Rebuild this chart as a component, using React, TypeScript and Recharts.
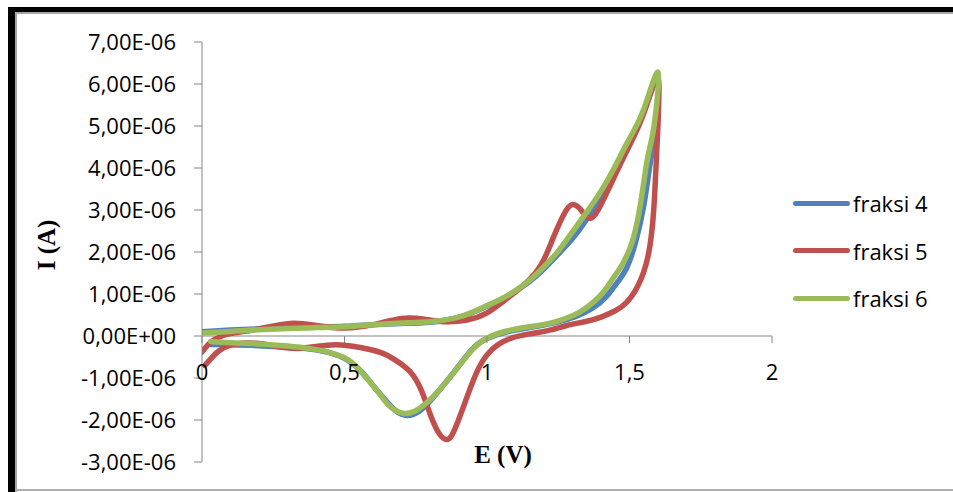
import React from 'react';
import { LineChart, Line, XAxis, YAxis, ReferenceLine } from 'recharts';

// cyclic voltammograms, E in V, I in µA (scaled to A below)
const e4 = [0, 0.1, 0.2, 0.3, 0.4, 0.5, 0.6, 0.7, 0.8, 0.9, 0.98, 1.05, 1.1, 1.15, 1.2, 1.25, 1.3, 1.35, 1.4, 1.45, 1.5, 1.55, 1.6,
  1.595, 1.585, 1.57, 1.55, 1.52, 1.49, 1.46, 1.42, 1.37, 1.31, 1.24, 1.15, 1.07, 1.0, 0.95, 0.9, 0.85, 0.8, 0.76, 0.72, 0.68, 0.64, 0.6, 0.56, 0.52, 0.48, 0.4, 0.3, 0.2, 0.1, 0.03];
const i4 = [0.1, 0.14, 0.17, 0.19, 0.21, 0.23, 0.27, 0.3, 0.33, 0.44, 0.65, 0.87, 1.07, 1.3, 1.6, 1.95, 2.32, 2.78, 3.35, 4.0, 4.65, 5.35, 6.15,
  5.2, 4.6, 4.0, 3.1, 2.2, 1.62, 1.3, 0.95, 0.66, 0.46, 0.32, 0.2, 0.1, -0.06, -0.3, -0.72, -1.15, -1.55, -1.8, -1.89, -1.78, -1.5, -1.18, -0.85, -0.62, -0.47, -0.33, -0.27, -0.23, -0.21, -0.2];

const e5 = [0, 0.03, 0.07, 0.12, 0.2, 0.31, 0.4, 0.5, 0.6, 0.7, 0.78, 0.85, 0.93, 1.0, 1.06, 1.13, 1.19, 1.23, 1.27, 1.3, 1.33, 1.36, 1.39, 1.43, 1.49, 1.55, 1.6,
  1.597, 1.585, 1.565, 1.53, 1.49, 1.45, 1.4, 1.35, 1.28, 1.22, 1.15, 1.09, 1.04, 1.0, 0.965, 0.93, 0.9, 0.875, 0.855, 0.83, 0.8, 0.77, 0.73, 0.68, 0.63, 0.56, 0.5, 0.44, 0.35, 0.28, 0.2, 0.14, 0.1, 0.06, 0.03, 0.01];
const i5 = [-0.38, -0.15, 0.0, 0.08, 0.17, 0.3, 0.25, 0.19, 0.27, 0.42, 0.4, 0.34, 0.38, 0.55, 0.84, 1.22, 1.7, 2.3, 2.9, 3.13, 3.0, 2.8, 3.0, 3.55, 4.4, 5.3, 6.1,
  4.6, 3.0, 1.9, 1.2, 0.8, 0.6, 0.45, 0.35, 0.25, 0.14, 0.05, -0.04, -0.2, -0.45, -0.85, -1.45, -2.0, -2.38, -2.46, -2.3, -1.85, -1.3, -0.85, -0.58, -0.4, -0.28, -0.22, -0.22, -0.29, -0.27, -0.18, -0.17, -0.22, -0.35, -0.55, -0.7];

const e6 = [0, 0.1, 0.2, 0.3, 0.4, 0.5, 0.6, 0.7, 0.8, 0.9, 0.98, 1.05, 1.1, 1.15, 1.2, 1.25, 1.3, 1.35, 1.4, 1.45, 1.5, 1.55, 1.6,
  1.59, 1.575, 1.56, 1.54, 1.51, 1.47, 1.44, 1.4, 1.35, 1.3, 1.23, 1.15, 1.07, 1.0, 0.95, 0.9, 0.85, 0.8, 0.75, 0.705, 0.66, 0.62, 0.58, 0.54, 0.5, 0.44, 0.38, 0.3, 0.2, 0.1, 0.03];
const i6 = [0.07, 0.11, 0.15, 0.18, 0.2, 0.22, 0.27, 0.31, 0.34, 0.45, 0.66, 0.88, 1.08, 1.33, 1.65, 2.02, 2.48, 2.95, 3.45, 4.05, 4.7, 5.4, 6.28,
  5.2, 4.6, 4.1, 3.2, 2.25, 1.65, 1.35, 0.98, 0.68, 0.48, 0.32, 0.22, 0.12, -0.05, -0.31, -0.73, -1.15, -1.52, -1.78, -1.84, -1.68, -1.35, -1.02, -0.72, -0.52, -0.38, -0.3, -0.24, -0.19, -0.16, -0.13];

const xTicks = [0, 0.5, 1, 1.5, 2];
const yTicks = [-3e-6, -2e-6, -1e-6, 0, 1e-6, 2e-6, 3e-6, 4e-6, 5e-6, 6e-6, 7e-6];

const zip = (e: number[], i: number[]) => e.map((v, k) => ({ e: v, i: i[k] * 1e-6 }));

const series = [
  { name: 'fraksi 4', color: '#4F81BD', data: zip(e4, i4) },
  { name: 'fraksi 5', color: '#C0504D', data: zip(e5, i5) },
  { name: 'fraksi 6', color: '#9BBB59', data: zip(e6, i6) },
];

const W = 953;
const H = 492;
const X_AXIS_H = 30;
const M = { top: 42, right: 181, bottom: 0, left: 142 };
const Y_MIN = -3e-6;
const Y_MAX = 7e-6;
const plotH = H - M.top - M.bottom - X_AXIS_H;
const zeroY = M.top + (plotH * Y_MAX) / (Y_MAX - Y_MIN);

const font = '"Open Sans", sans-serif';

const fmtY = (v: number) => {
  const [m, ex] = v.toExponential(2).split('e');
  const sign = ex[0] === '-' ? '-' : '+';
  const p = String(Math.abs(parseInt(ex, 10))).padStart(2, '0');
  return m.replace('.', ',') + 'E' + sign + p;
};

// x axis crosses at I = 0, so ticks are drawn on the zero line
const renderXTick = (props: any) => {
  const { x, payload } = props;
  return (
    <g key={`xt-${payload.value}`}>
      <line x1={x} y1={zeroY} x2={x} y2={zeroY + 7} stroke="#868686" />
      <text x={x} y={zeroY + 35} textAnchor="middle" dominantBaseline="central" fontSize={22} fontFamily={font} fill="#000">
        {String(payload.value).replace('.', ',')}
      </text>
    </g>
  );
};

export default function App() {
  return (
    <div style={{ position: 'absolute', left: 0, top: 0, width: W, height: H, background: '#fff', overflow: 'hidden' }}>
      <div style={{ position: 'absolute', left: 8, top: 7, width: W - 8, height: 5, background: '#000' }} />
      <div style={{ position: 'absolute', left: 8, top: 7, width: 7, height: H - 7, background: '#000' }} />
      <div style={{ position: 'absolute', left: 15, top: 12, width: W - 15, height: 2, background: '#a6a6a6' }} />
      <div style={{ position: 'absolute', left: 15, top: 12, width: 2, height: H - 12, background: '#a6a6a6' }} />
      <div style={{ position: 'absolute', left: 15, top: 489, width: W - 15, height: 2, background: '#b0b0b0' }} />

      <div style={{ position: 'absolute', left: 0, top: 0 }}>
        <LineChart width={W} height={H} margin={M}>
          <XAxis
            type="number"
            dataKey="e"
            domain={[0, 2]}
            ticks={xTicks}
            height={X_AXIS_H}
            axisLine={false}
            tickLine={false}
            tick={renderXTick}
            interval={0}
            allowDataOverflow
          />
          <YAxis
            type="number"
            dataKey="i"
            domain={[Y_MIN, Y_MAX]}
            ticks={yTicks}
            width={60}
            tickFormatter={fmtY}
            tickSize={8}
            tickMargin={18}
            stroke="#868686"
            tick={{ fill: '#000', fontSize: 22, fontFamily: font }}
            interval={0}
          />
          <ReferenceLine y={0} stroke="#868686" strokeWidth={1} />
          {series.map((s) => (
            <Line
              key={s.name}
              data={s.data}
              dataKey="i"
              name={s.name}
              type="natural"
              stroke={s.color}
              strokeWidth={5.5}
              strokeLinecap="round"
              strokeLinejoin="round"
              dot={false}
              activeDot={false}
              isAnimationActive={false}
            />
          ))}
        </LineChart>
      </div>

      <div
        style={{
          position: 'absolute', left: 22, top: 245, transform: 'translate(0, -50%) rotate(-90deg)',
          fontFamily: '"Liberation Serif", serif', fontWeight: 'bold', fontSize: 25, whiteSpace: 'nowrap',
        }}
      >
        I (A)
      </div>
      <div
        style={{
          position: 'absolute', left: 503, top: 455, transform: 'translate(-50%, -50%)',
          fontFamily: '"Liberation Serif", serif', fontWeight: 'bold', fontSize: 25, whiteSpace: 'nowrap',
        }}
      >
        E (V)
      </div>

      {series.map((s, k) => (
        <div key={s.name} style={{ position: 'absolute', left: 793, top: 203 + k * 47.5, transform: 'translateY(-50%)', display: 'flex', alignItems: 'center' }}>
          <div style={{ width: 57, height: 5, borderRadius: 3, background: s.color }} />
          <span style={{ marginLeft: 3, fontFamily: font, fontSize: 22, color: '#000', lineHeight: 1 }}>{s.name}</span>
        </div>
      ))}
    </div>
  );
}
